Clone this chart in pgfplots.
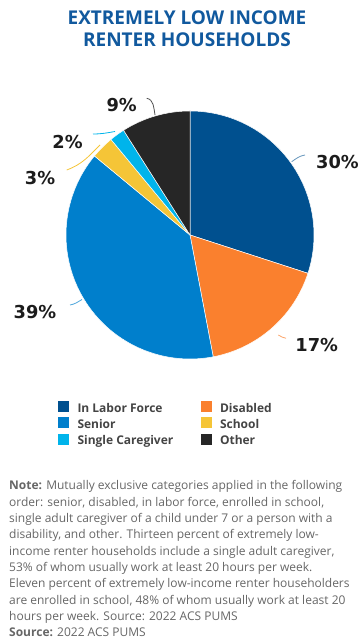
\documentclass[border=0pt]{standalone}
\usepackage{pgfplots}
\pgfplotsset{compat=1.18}
\usepackage{fontspec}
\setmainfont{Open Sans}
\newfontfamily\labfont{DejaVu Sans}
\definecolor{labor}{HTML}{00508F}
\definecolor{disabled}{HTML}{FA802E}
\definecolor{senior}{HTML}{007FCC}
\definecolor{school}{HTML}{F5C537}
\definecolor{caregiver}{HTML}{00B4EB}
\definecolor{other}{HTML}{262626}
\definecolor{titleblue}{HTML}{11599E}
\definecolor{legtext}{HTML}{444444}
\definecolor{notetext}{HTML}{666666}
\definecolor{labtext}{HTML}{1C1C1C}
% shares (percent)
\def\vLab{30}\def\vDis{17}\def\vSen{39}\def\vSch{3}\def\vCar{2}\def\vOth{9}
\pgfmathsetmacro\aA{90}
\pgfmathsetmacro\aB{\aA-3.6*\vLab}
\pgfmathsetmacro\aC{\aB-3.6*\vDis}
\pgfmathsetmacro\aD{\aC-3.6*\vSen}
\pgfmathsetmacro\aE{\aD-3.6*\vSch}
\pgfmathsetmacro\aF{\aE-3.6*\vCar}
\pgfmathsetmacro\aG{\aF-3.6*\vOth}
\def\cx{190}\def\cy{404}\def\R{124}
\begin{document}
\begin{tikzpicture}[x=1pt,y=1pt]
\useasboundingbox (0,0) rectangle (360,639);
% title
\node[anchor=base,inner sep=0pt,font=\fontsize{19}{22}\selectfont\bfseries,text=titleblue] at (187,614) {EXTREMELY LOW INCOME};
\node[anchor=base,inner sep=0pt,font=\fontsize{19}{22}\selectfont\bfseries,text=titleblue] at (187,592.3) {RENTER HOUSEHOLDS};
\begin{axis}[at={(0,0)},anchor=south west,scale only axis,width=360pt,height=639pt,
  xmin=0,xmax=360,ymin=0,ymax=639,hide axis,clip=false,
  legend columns=2,
  legend cell align=left,
  legend style={at={(axis cs:57,240.8)},anchor=north west,draw=none,fill=none,inner sep=0pt,outer sep=0pt,
    font=\fontsize{12}{14}\selectfont\bfseries,text=legtext,
    nodes={inner xsep=0pt,inner ysep=1pt,text height=12.85pt,text depth=1.45pt},
    row sep=0pt,
    /tikz/every odd column/.append style={column sep=8pt}},
  legend image code/.code={\fill[#1] (0pt,-6pt) rectangle (12pt,6pt);}]
\addplot[fill=labor,draw=white,line width=0.5pt,domain=\aB:\aA,samples=60] ({\cx+\R*cos(x)},{\cy+\R*sin(x)}) -- (axis cs:\cx,\cy) -- cycle;
\addlegendentry{\makebox[122pt][l]{In Labor Force}}
\addplot[fill=disabled,draw=white,line width=0.5pt,domain=\aC:\aB,samples=40] ({\cx+\R*cos(x)},{\cy+\R*sin(x)}) -- (axis cs:\cx,\cy) -- cycle;
\addlegendentry{Disabled}
\addplot[fill=senior,draw=white,line width=0.5pt,domain=\aD:\aC,samples=80] ({\cx+\R*cos(x)},{\cy+\R*sin(x)}) -- (axis cs:\cx,\cy) -- cycle;
\addlegendentry{\makebox[122pt][l]{Senior}}
\addplot[fill=school,draw=white,line width=0.5pt,domain=\aE:\aD,samples=8] ({\cx+\R*cos(x)},{\cy+\R*sin(x)}) -- (axis cs:\cx,\cy) -- cycle;
\addlegendentry{School}
\addplot[fill=caregiver,draw=white,line width=0.5pt,domain=\aF:\aE,samples=6] ({\cx+\R*cos(x)},{\cy+\R*sin(x)}) -- (axis cs:\cx,\cy) -- cycle;
\addlegendentry{\makebox[122pt][l]{Single Caregiver}}
\addplot[fill=other,draw=white,line width=0.5pt,domain=\aG:\aF,samples=20] ({\cx+\R*cos(x)},{\cy+\R*sin(x)}) -- (axis cs:\cx,\cy) -- cycle;
\addlegendentry{Other}
% leader lines
\draw[labor!60,line width=0.8pt] (axis cs:291.7,477.3) to[out=35,in=190] (axis cs:305,484);
\draw[disabled!70,line width=0.8pt] (axis cs:278.3,304) to[out=-30,in=170] (axis cs:286,300.7);
\draw[senior!70,line width=0.8pt] (axis cs:70,334) to[out=10,in=210] (axis cs:82,339.5);
\draw[school,line width=0.8pt] (axis cs:66.7,469) to[out=20,in=225] (axis cs:100,494);
\draw[caregiver,line width=0.8pt] (axis cs:93,505) to[out=0,in=190] (axis cs:115,507.5);
\draw[other!80,line width=0.8pt] (axis cs:146.7,540.7) to[out=-10,in=100] (axis cs:155,524);
% labels
\begin{scope}[every node/.style={inner sep=0pt,font=\labfont\fontsize{17.8}{20}\selectfont\bfseries,text=labtext}]
\node at (axis cs:337.5,477.3) {30\%};
\node at (axis cs:316.7,294) {17\%};
\node at (axis cs:35,327.3) {39\%};
\node at (axis cs:40,461) {3\%};
\node at (axis cs:67.5,497.3) {2\%};
\node at (axis cs:121.7,534) {9\%};
\end{scope}
\end{axis}
% note
\begin{scope}[every node/.style={anchor=base west,inner sep=0pt,font=\fontsize{12}{16}\selectfont,text=notetext}]
\node at (9,149) {\textbf{Note:} Mutually exclusive categories applied in the following};
\node at (9,132.7) {order: senior, disabled, in labor force, enrolled in school,};
\node at (9,116.4) {single adult caregiver of a child under 7 or a person with a};
\node at (9,100.1) {disability, and other. Thirteen percent of extremely low-};
\node at (9,83.8) {income renter households include a single adult caregiver,};
\node at (9,67.5) {53\% of whom usually work at least 20 hours per week.};
\node at (9,51.2) {Eleven percent of extremely low-income renter householders};
\node at (9,34.9) {are enrolled in school, 48\% of whom usually work at least 20};
\node at (9,18.6) {hours per week. Source: 2022 ACS PUMS};
\node at (9,2.3) {\textbf{Source:} 2022 ACS PUMS};
\end{scope}
\end{tikzpicture}
\end{document}
